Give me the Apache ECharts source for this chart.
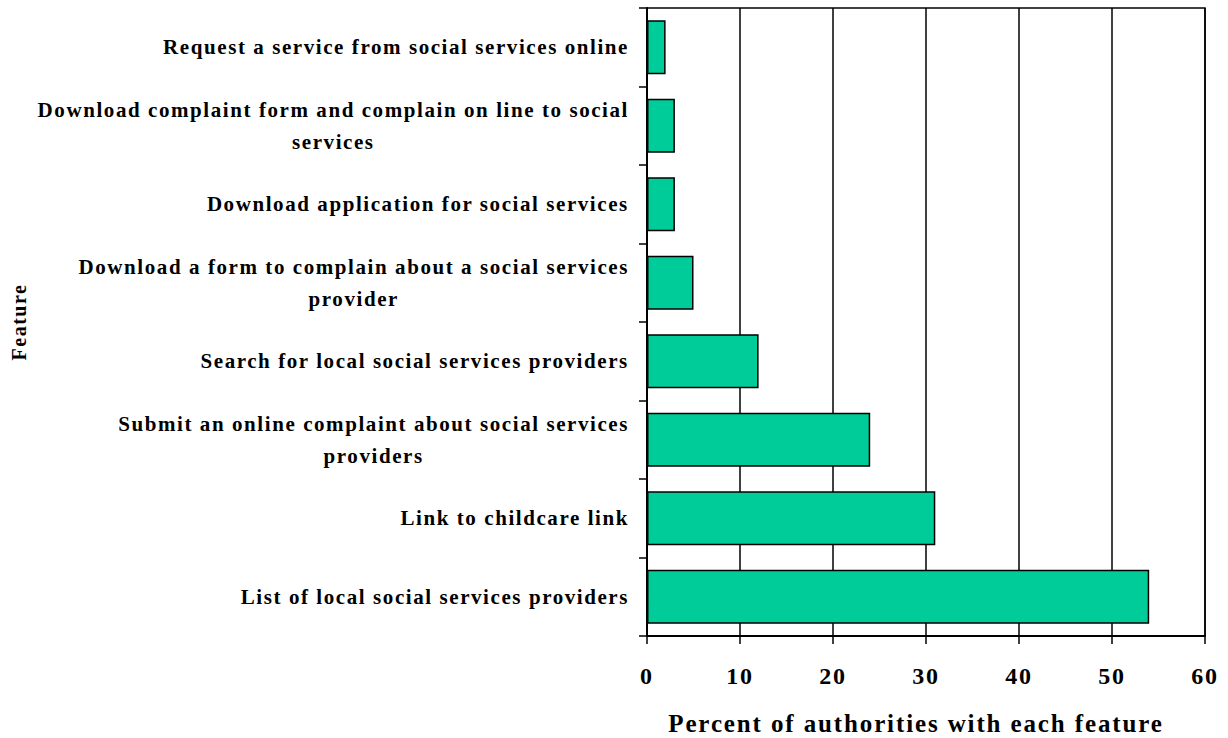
<!DOCTYPE html>
<html>
<head>
<meta charset="utf-8">
<title>Social services features</title>
<script src="https://cdn.jsdelivr.net/npm/echarts@6/dist/echarts.min.js"></script>
<style>
  html, body { margin: 0; padding: 0; background: #fff; }
  #chart { width: 1228px; height: 738px; }
  /* spaced-out lettering used throughout the chart */
  #chart svg text { letter-spacing: 0.075em; }
</style>
</head>
<body>
<div id="chart"></div>
<script>
// Features offered on authority websites, listed top to bottom
const features = [
  'Request a service from social services online',
  'Download complaint form and complain on line to social\nservices',
  'Download application for social services',
  'Download a form to complain about a social services\nprovider',
  'Search for local social services providers',
  'Submit an online complaint about social services\nproviders',
  'Link to childcare link',
  'List of local social services providers'
];
// Percent of authorities offering each feature
const percents = [2, 3, 3, 5, 12, 24, 31, 54];
// Value axis ticks
const xTicks = [0, 10, 20, 30, 40, 50, 60];

const LETTER_SPACING_EM = 0.075;
const FONT = '"Liberation Serif", "Times New Roman", serif';

// Text measuring that accounts for the letter spacing applied in CSS
const measureCtx = document.createElement('canvas').getContext('2d');
echarts.setPlatformAPI({
  measureText: function (text, font) {
    measureCtx.font = font || '12px sans-serif';
    const m = /([\d.]+)px/.exec(font || '');
    const size = m ? parseFloat(m[1]) : 12;
    const w = measureCtx.measureText(text).width + text.length * size * LETTER_SPACING_EM;
    return { width: w };
  }
});

const chart = echarts.init(document.getElementById('chart'), null, { renderer: 'svg' });

const option = {
  animation: false,
  backgroundColor: '#fff',
  grid: {
    left: 647, right: 23, top: 8, bottom: 102,
    show: true, borderColor: '#000', borderWidth: 1.5,
    containLabel: false,
    outerBoundsMode: 'none'
  },
  xAxis: {
    type: 'value',
    min: xTicks[0],
    max: xTicks[xTicks.length - 1],
    interval: xTicks[1] - xTicks[0],
    axisLine: { show: true, lineStyle: { color: '#000', width: 2 } },
    axisTick: { show: true, length: 8, lineStyle: { color: '#000', width: 1.5 } },
    splitLine: { show: true, lineStyle: { color: '#000', width: 1.5 } },
    axisLabel: {
      color: '#000', fontFamily: FONT, fontWeight: 'bold', fontSize: 24, margin: 27
    },
    name: 'Percent of authorities with each feature',
    nameLocation: 'middle',
    nameGap: 74,
    nameTextStyle: {
      color: '#000', fontFamily: FONT, fontWeight: 'bold', fontSize: 25,
      padding: [0, 20, 0, 0]
    }
  },
  yAxis: {
    type: 'category',
    inverse: true,
    data: features,
    axisLine: { show: true, lineStyle: { color: '#000', width: 2 } },
    axisTick: { show: true, length: 8, lineStyle: { color: '#000', width: 1.5 } },
    splitLine: { show: false },
    axisLabel: {
      margin: 18,
      interval: 0,
      formatter: function (v) {
        return v.split('\n').map(function (l) { return '{c|' + l + '}'; }).join('\n');
      },
      rich: {
        c: {
          align: 'center', color: '#000', fontFamily: FONT, fontWeight: 'bold',
          fontSize: 21, lineHeight: 32
        }
      }
    },
    name: 'Feature',
    nameLocation: 'middle',
    nameRotate: 90,
    nameGap: 617,
    nameTextStyle: { color: '#000', fontFamily: FONT, fontWeight: 'bold', fontSize: 20 }
  },
  series: [{
    type: 'bar',
    data: percents,
    barCategoryGap: '31%',
    itemStyle: { color: '#00CC99', borderColor: '#000', borderWidth: 1.5 }
  }]
};

chart.setOption(option);
</script>
</body>
</html>
